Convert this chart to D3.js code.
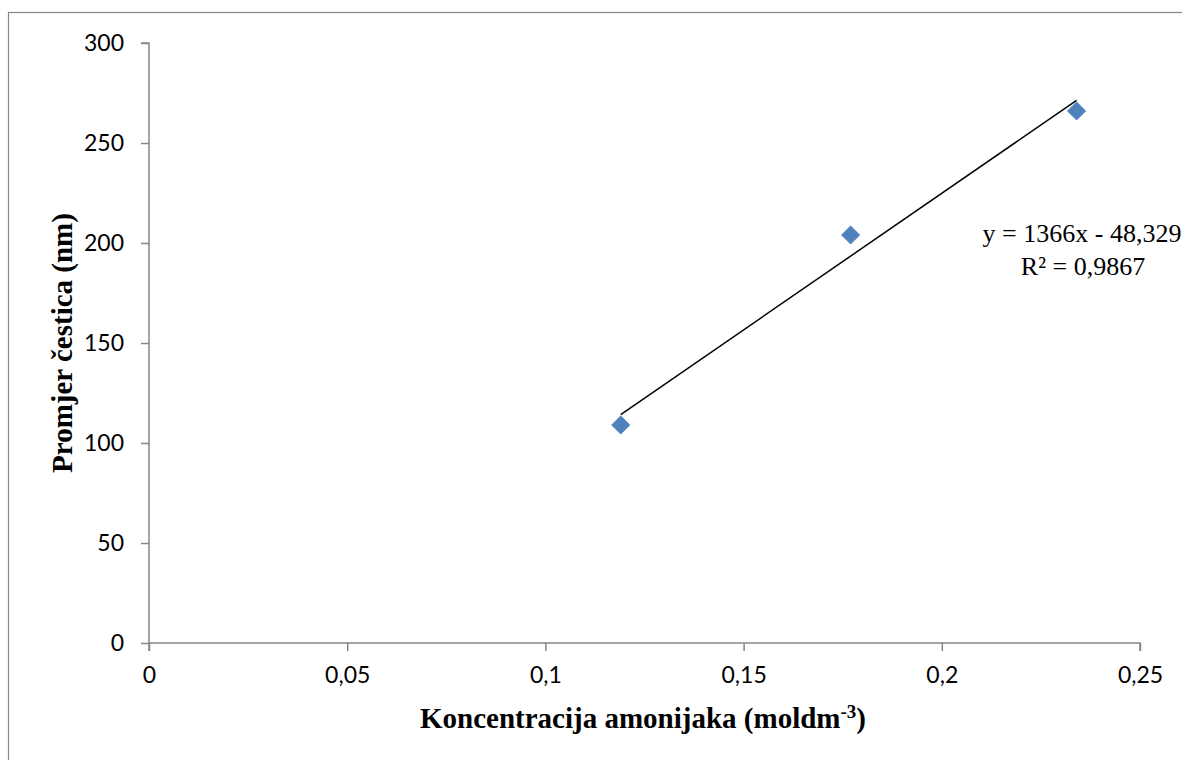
<!DOCTYPE html>
<html>
<head>
<meta charset="utf-8">
<script src="https://cdn.jsdelivr.net/npm/d3@7"></script>
<style>
  html, body { margin: 0; padding: 0; background: #fff; }
  svg { display: block; }
  .tick text { font-family: "Lato", "Open Sans", sans-serif; font-size: 23px; fill: #000; }
  .title { font-family: "Liberation Serif", "Times New Roman", serif; font-weight: bold; font-size: 29px; fill: #000; }
  .eq { font-family: "Liberation Serif", "Times New Roman", serif; font-size: 26px; fill: #000; }
</style>
</head>
<body>
<div id="chart"></div>
<script>
// data
const concentrations = [0.119, 0.177, 0.234];
const diameters = [109, 204, 266];
const xTicks = [0, 0.05, 0.1, 0.15, 0.2, 0.25];
const yTicks = [0, 50, 100, 150, 200, 250, 300];
const slope = 1366;
const intercept = -48.329;
const eqLines = ['y = 1366x - 48,329', 'R\u00b2 = 0,9867'];

const width = 1182, height = 760;
const margin = { top: 43, right: 42, bottom: 117, left: 149 };

const svg = d3.select('#chart').append('svg')
    .attr('width', width)
    .attr('height', height);

// outer chart frame
svg.append('rect')
    .attr('x', 8.5).attr('y', 12.5)
    .attr('width', width + 10).attr('height', height + 10)
    .attr('fill', 'none')
    .attr('stroke', '#878787')
    .attr('stroke-width', 1.2);

const x = d3.scaleLinear()
    .domain([0, 0.25])
    .range([margin.left, width - margin.right]);

const y = d3.scaleLinear()
    .domain([0, 300])
    .range([height - margin.bottom, margin.top]);

const fmt = d => String(d).replace('.', ',');

// y axis
const yAxis = svg.append('g')
    .attr('transform', `translate(${margin.left},0)`)
    .call(d3.axisLeft(y).tickValues(yTicks).tickFormat(fmt).tickSize(8).tickPadding(17));

// x axis
const xAxis = svg.append('g')
    .attr('transform', `translate(0,${height - margin.bottom})`)
    .call(d3.axisBottom(x).tickValues(xTicks).tickFormat(fmt).tickSize(8).tickPadding(16));

[yAxis, xAxis].forEach(g => {
    g.selectAll('path.domain').attr('stroke', '#878787').attr('stroke-width', 1.5);
    g.selectAll('.tick line').attr('stroke', '#878787').attr('stroke-width', 1.5);
});
yAxis.select('path.domain').attr('d', `M-8,${y(300)}H0V${y(0)}`);
xAxis.select('path.domain').attr('d', `M${x(0)},8V0H${x(0.25)}V8`);

// trendline over the data range
const xMin = d3.min(concentrations), xMax = d3.max(concentrations);
svg.append('line')
    .attr('x1', x(xMin)).attr('y1', y(slope * xMin + intercept))
    .attr('x2', x(xMax)).attr('y2', y(slope * xMax + intercept))
    .attr('stroke', '#000')
    .attr('stroke-width', 1.5);

// diamond markers
const diamond = d3.symbol().type(d3.symbolSquare).size(165);
svg.selectAll('path.point')
    .data(concentrations)
    .enter()
    .append('path')
    .attr('class', 'point')
    .attr('d', diamond)
    .attr('transform', (d, i) => `translate(${x(d)},${y(diameters[i])}) rotate(45)`)
    .attr('fill', '#4F81BD')
    .attr('stroke', '#4A7EBB')
    .attr('stroke-width', 0.8);

// equation label
svg.append('text')
    .attr('class', 'eq')
    .attr('x', 1082).attr('y', 242)
    .attr('text-anchor', 'middle')
    .text(eqLines[0]);
svg.append('text')
    .attr('class', 'eq')
    .attr('x', 1083).attr('y', 275)
    .attr('text-anchor', 'middle')
    .text(eqLines[1]);

// axis titles
const xt = svg.append('text')
    .attr('class', 'title')
    .attr('x', 643)
    .attr('y', 728)
    .attr('text-anchor', 'middle');
xt.append('tspan').text('Koncentracija amonijaka (moldm');
xt.append('tspan').attr('font-size', 19).attr('dy', -10).text('-3');
xt.append('tspan').attr('dy', 10).text(')');

svg.append('text')
    .attr('class', 'title')
    .attr('transform', `translate(72,${(y(0) + y(300)) / 2}) rotate(-90)`)
    .attr('text-anchor', 'middle')
    .text('Promjer \u010destica (nm)');
</script>
</body>
</html>
